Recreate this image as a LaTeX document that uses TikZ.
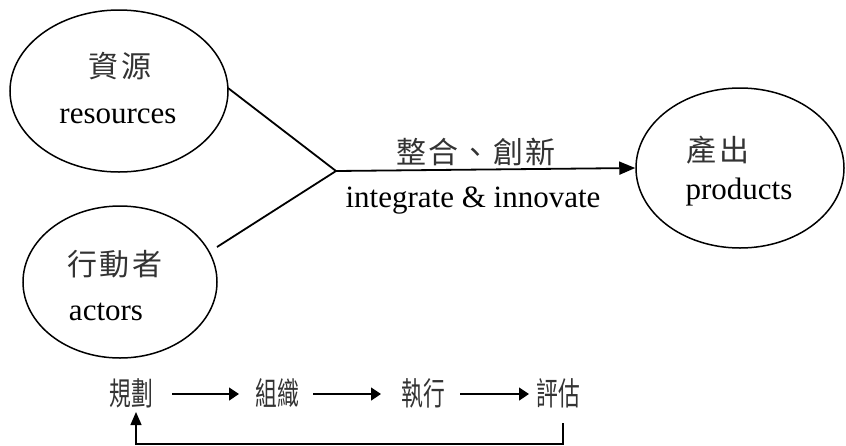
\documentclass[tikz,border=0pt]{standalone}
\usepackage{fontspec}
\setmainfont{Liberation Serif}
\newfontfamily\cjk[LetterSpace=7]{Noto Sans CJK TC}
\newfontfamily\cjkb{Noto Sans CJK TC}
\usetikzlibrary{arrows.meta,shapes.geometric}
\tikzset{
  oval/.style={draw, ellipse, line width=1.5pt, inner sep=0pt},
  lat/.style={inner sep=0pt, font=\fontsize{31}{34}\selectfont},
  zh/.style={inner sep=0pt, text=black!80, font=\cjk\fontsize{30}{32}\selectfont},
  zhb/.style={inner sep=0pt, text=black!80, font=\cjkb\fontsize{32}{34}\selectfont, xscale=0.68},
  conn/.style={line width=1.8pt},
  bigarrow/.style={line width=1.8pt, -{Triangle[length=16pt,width=13pt]}},
  smallarrow/.style={line width=1.3pt, -{Triangle[length=10pt,width=13pt]}},
}
\begin{document}
\begin{tikzpicture}[x=1pt,y=-1pt]
\useasboundingbox (0,0) rectangle (846,445);
% ellipses
\node[oval, minimum width=218pt, minimum height=162pt] (res) at (119,91) {};
\node[oval, minimum width=194pt, minimum height=152pt] (act) at (120,282) {};
\node[oval, minimum width=208pt, minimum height=160pt] (prod) at (740,168) {};
% texts in ellipses
\node[zh] (resz) at (120,66) {資源};
\node[lat] (rese) at (118,116) {resources};
\node[zh] (actz) at (115,264) {行動者};
\node[lat] (acte) at (106,312) {actors};
\node[zh] (prodz) at (718,150) {產出};
\node[lat] (prode) at (739,192) {products};
% connectors
\coordinate (resout) at (228,88);
\coordinate (actout) at (217,247);
\coordinate (j) at (336,171);
\draw[conn] (resout) -- (j);
\draw[conn] (actout) -- (j);
\draw[bigarrow] (j) -- (prod.west);
\node[zh] (intz) at (476,152) {整合、創新};
\node[lat] (inte) at (473,201) {integrate \& innovate};
% bottom cycle
\node[zhb] (plan) at (131,393) {規劃};
\node[zhb] (org) at (277,393) {組織};
\node[zhb] (exe) at (423,393) {執行};
\node[zhb] (eval) at (558,393) {評估};
\coordinate (a1s) at (172,394);
\coordinate (a1e) at (239,394);
\coordinate (a2s) at (313,394);
\coordinate (a2e) at (381,394);
\coordinate (a3s) at (460,394);
\coordinate (a3e) at (529,394);
\draw[smallarrow] (a1s) -- (a1e);
\draw[smallarrow] (a2s) -- (a2e);
\draw[smallarrow] (a3s) -- (a3e);
\coordinate (fbs) at (563,423);
\coordinate (fbe) at (136,412);
\draw[line width=1.3pt, -{Triangle[length=13pt,width=11pt]}] (fbs) -- ++(0,21) -| (fbe);
\end{tikzpicture}
\end{document}
